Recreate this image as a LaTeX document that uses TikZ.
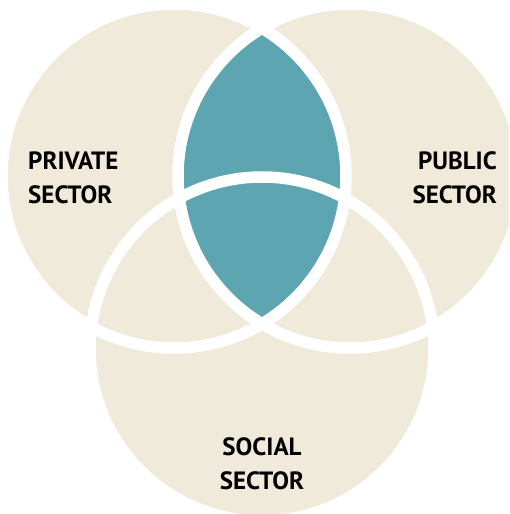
\documentclass[tikz,border=0pt]{standalone}
\usepackage{fontspec}
\setsansfont{PT Sans}
\usetikzlibrary{positioning}
\definecolor{sand}{RGB}{239,234,217}
\definecolor{lagoon}{RGB}{93,165,176}

\begin{document}
\begin{tikzpicture}[
		x=1pt, y=1pt
		,ring/.style={draw=white, line width=11.5pt}
		,sectortext/.style={font=\sffamily\bfseries\fontsize{25}{34}\selectfont, inner sep=0pt, text=black}
	]
	\clip (0,0) rectangle (509,514);
	\fill[white] (0,0) rectangle (509,514);
	\coordinate (P) at (174,338);
	\coordinate (Q) at (350,338);
	\coordinate (S) at (262,165);
	% the three sectors
	\fill[sand] (P) circle (172) (Q) circle (172) (S) circle (172);
	% private and public overlap
	\begin{scope}
		\clip (P) circle (172);
		\fill[lagoon] (Q) circle (172);
	\end{scope}
	\draw[ring] (P) circle (172) (Q) circle (172) (S) circle (172);
	\node [sectortext, anchor=west, align=left] (priv) at (28,336.5) {PRIVATE\\SECTOR};
	\node [sectortext, anchor=east, align=right] (pub) at (497,336.5) {PUBLIC\\SECTOR};
	\node [sectortext, align=center] (soc) at (262,50) {SOCIAL\\SECTOR};
\end{tikzpicture}
\end{document}
